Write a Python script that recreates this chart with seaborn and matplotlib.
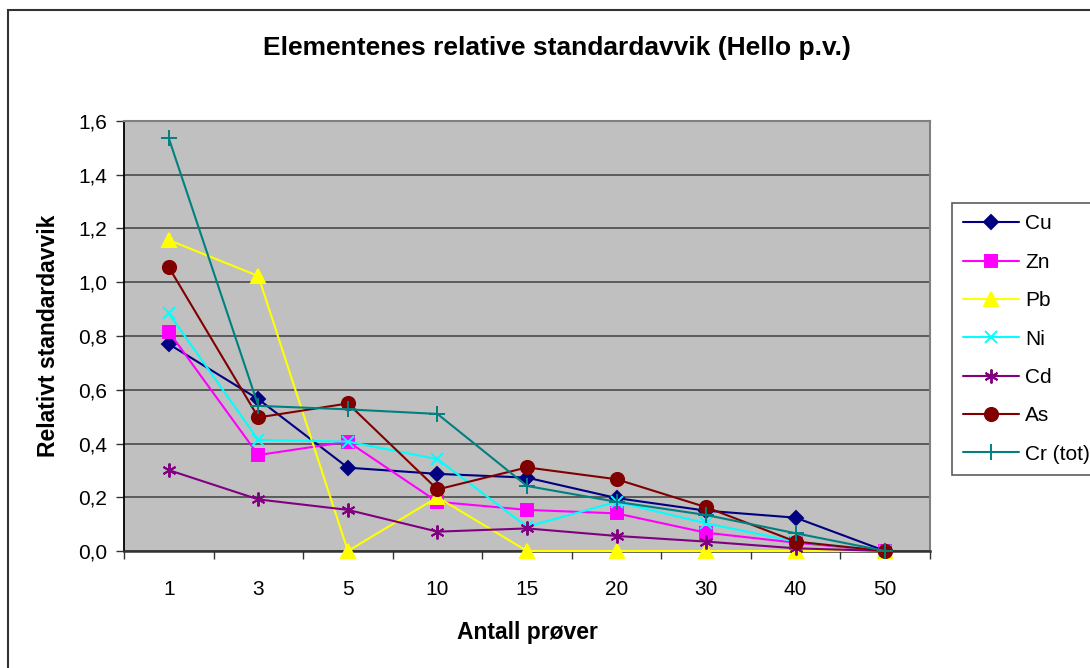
import matplotlib
matplotlib.use("Agg")
import matplotlib.pyplot as plt
from matplotlib.patches import Rectangle
from matplotlib.ticker import FixedLocator, FuncFormatter
import seaborn as sns
import pandas as pd

# Number of samples (categorical x axis)
antall = ["1", "3", "5", "10", "15", "20", "30", "40", "50"]

# Relative standard deviation per element
cu = [0.77, 0.565, 0.31, 0.287, 0.273, 0.197, 0.150, 0.124, 0.0]
zn = [0.816, 0.357, 0.407, 0.183, 0.153, 0.140, 0.068, 0.031, 0.0]
pb = [1.157, 1.023, 0.0, 0.20, 0.0, 0.0, 0.0, 0.0, 0.0]
ni = [0.884, 0.413, 0.407, 0.342, 0.090, 0.183, 0.103, 0.035, 0.0]
cd = [0.301, 0.192, 0.153, 0.072, 0.084, 0.056, 0.035, 0.010, 0.0]
as_ = [1.056, 0.497, 0.549, 0.229, 0.311, 0.267, 0.163, 0.035, 0.0]
cr = [1.536, 0.540, 0.527, 0.510, 0.242, 0.183, 0.134, 0.066, 0.0]

series = [
    ("Cu", cu, "#000080", "D", 7, "#000080"),
    ("Zn", zn, "#FF00FF", "s", 8.5, "#FF00FF"),
    ("Pb", pb, "#FFFF00", "^", 10, "#FFFF00"),
    ("Ni", ni, "#00FFFF", "x", 9, "none"),
    ("Cd", cd, "#800080", (6, 2, 0), 10, "none"),
    ("As", as_, "#800000", "o", 9.5, "#800000"),
    ("Cr (tot)", cr, "#008080", "+", 11, "none"),
]

sns.set_style("white")
plt.rcParams["font.family"] = ["Liberation Sans", "DejaVu Sans"]
plt.rcParams["text.color"] = "black"
plt.rcParams["axes.labelcolor"] = "black"
plt.rcParams["xtick.color"] = "black"
plt.rcParams["ytick.color"] = "black"

fig = plt.figure(figsize=(10.9, 6.68), dpi=100)
ax = fig.add_axes([124 / 1090, 117 / 668, 806 / 1090, 430 / 668])
ax.set_facecolor("#C0C0C0")

pos = list(range(len(antall)))
for name, vals, col, mk, ms, face in series:
    df = pd.DataFrame({"x": pos, "y": vals})
    sns.lineplot(data=df, x="x", y="y", ax=ax, color=col, linewidth=1.5,
                 marker=mk, markersize=ms, markerfacecolor=face,
                 markeredgecolor=col, markeredgewidth=1.4, label=name,
                 clip_on=False, zorder=3)

ax.set_xlim(-0.5, len(antall) - 0.5)
ax.set_ylim(0, 1.6)

# y axis: comma decimals, outward ticks, horizontal grid
ax.yaxis.set_major_locator(FixedLocator([i * 0.2 for i in range(9)]))
ax.yaxis.set_major_formatter(FuncFormatter(lambda v, p: f"{v:.1f}".replace(".", ",")))
ax.yaxis.grid(True, color="#4a4a4a", linewidth=1.2, zorder=1)
ax.xaxis.grid(False)
ax.set_axisbelow(True)

# x axis: labels centred on categories, tick marks between them
ax.set_xticks(pos)
ax.set_xticklabels(antall)
ax.set_xticks([p - 0.5 for p in range(len(antall) + 1)], minor=True)
ax.tick_params(axis="x", which="major", length=0, pad=21, labelsize=15)
ax.tick_params(axis="x", which="minor", length=6, width=1, color="#333333",
               direction="out", bottom=True)
ax.tick_params(axis="y", which="major", length=6, width=1, color="#333333",
               direction="out", left=True, pad=6, labelsize=15)

for s in ("top", "right"):
    ax.spines[s].set_color("#808080")
    ax.spines[s].set_linewidth(1.5)
ax.spines["left"].set_color("#000000")
ax.spines["left"].set_linewidth(1.3)
ax.spines["bottom"].set_color("#333333")
ax.spines["bottom"].set_linewidth(1.8)

ax.set_xlabel("Antall prøver", fontsize=16.5, fontweight="bold", labelpad=16)
ax.set_ylabel("Relativt standardavvik", fontsize=16.5, fontweight="bold", labelpad=13)

fig.text(0.511, 1 - 48 / 668, "Elementenes relative standardavvik (Hello p.v.)",
         ha="center", va="center", fontsize=19, fontweight="bold")

leg = ax.legend(loc="upper left", bbox_to_anchor=(952 / 1090, 1 - 203 / 668),
                bbox_transform=fig.transFigure, borderaxespad=0, frameon=True,
                fancybox=False, edgecolor="#333333", fontsize=15,
                handlelength=2.65, handletextpad=0.3, labelspacing=0.93,
                borderpad=0.55)
leg.get_frame().set_linewidth(1.2)
leg.get_frame().set_facecolor("white")

# Outer chart frame
fig.patches.append(Rectangle((8 / 1090, -0.1), 1.2, (1 - 10 / 668) + 0.1,
                             transform=fig.transFigure, fill=False,
                             edgecolor="#333333", linewidth=1.5))

fig.savefig("out.png", dpi=100, facecolor="white")
